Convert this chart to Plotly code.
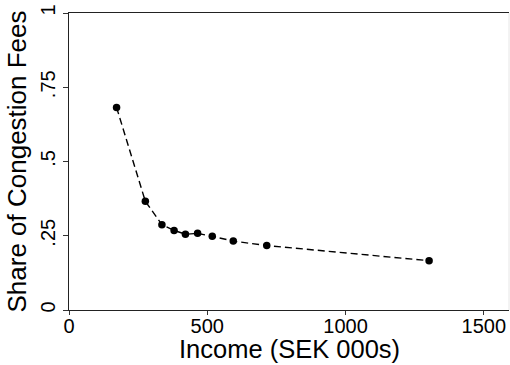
import plotly.graph_objects as go

# Mean income (SEK thousands) by group and their share of congestion fees
income = [172, 276, 336, 380, 421, 465, 518, 594, 715, 1302]
fee_share = [0.682, 0.366, 0.287, 0.268, 0.255, 0.258, 0.248, 0.232, 0.217, 0.166]

y_ticks = [0, 0.25, 0.5, 0.75, 1]
y_tick_text = ["0", ".25", ".5", ".75", "1"]
x_ticks = [0, 500, 1000, 1500]

FONT = "Arial, Liberation Sans, Helvetica, sans-serif"

fig = go.Figure()
fig.add_trace(go.Scatter(
    x=income, y=fee_share,
    mode="lines+markers",
    line=dict(color="black", width=1.4, dash="7px,4px"),
    marker=dict(color="black", size=7.5),
    showlegend=False,
))

fig.update_layout(
    width=510, height=365,
    margin=dict(l=69, r=1, t=13, b=55),
    paper_bgcolor="white", plot_bgcolor="white",
    font=dict(family=FONT, color="black"),
    xaxis=dict(
        range=[0, 1591],
        tickvals=x_ticks,
        ticks="outside", ticklen=4, tickcolor="#333", tickwidth=1,
        tickfont=dict(size=20), ticklabelstandoff=-6,
        showgrid=False, zeroline=False,
        showline=True, linecolor="#222", linewidth=1.3, mirror=True,
        automargin=False,
    ),
    yaxis=dict(
        range=[0, 1],
        tickvals=y_ticks, ticktext=y_tick_text, tickangle=-90,
        ticks="outside", ticklen=5, tickcolor="#333", tickwidth=1,
        tickfont=dict(size=20),
        showgrid=False, zeroline=False,
        showline=True, linecolor="#222", linewidth=1.3,
        title=dict(text="Share of Congestion Fees", font=dict(size=26), standoff=2),
        automargin=False,
    ),
)

# x-axis title placed just below the tick labels
fig.add_annotation(text="Income (SEK 000s)", xref="paper", yref="paper",
                   x=0.5, y=0, xanchor="center", yanchor="top", yshift=-24,
                   showarrow=False, font=dict(size=25.5), borderpad=0)

# faint right-hand edge of the plot region
fig.add_shape(type="line", xref="paper", yref="paper", x0=1, x1=1, y0=0, y1=1,
              line=dict(color="#e6e6e6", width=1))

fig.write_html("out.html")
